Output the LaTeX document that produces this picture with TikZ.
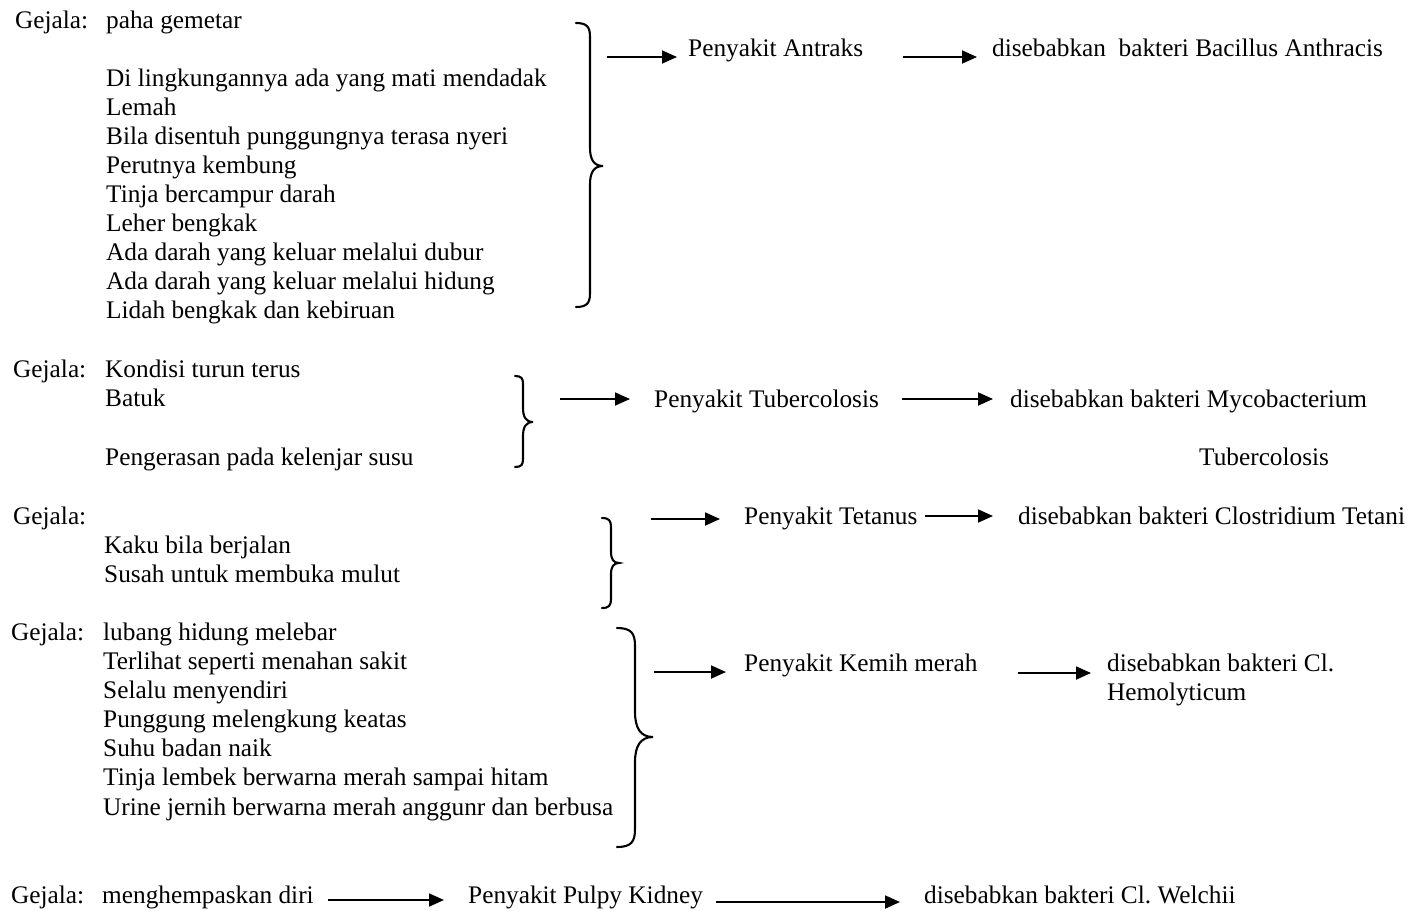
\documentclass[tikz,border=0pt]{standalone}
\usepackage{fontspec}
\setmainfont{Liberation Serif}
\usetikzlibrary{arrows.meta}
% right curly brace: #1 curl end x, #2 stem x, #3 tip x, #4 top y, #5 tip y, #6 bottom y
\newcommand\drawcurly[6]{%
  \draw[curly] (#1,#4) .. controls ({#2-0.2*(#2-#1)},#4) and (#2,{#4+0.3*(#2-#1)}) .. (#2,{#4+(#2-#1)})
    -- (#2,{#5-1.4*(#3-#2)}) .. controls (#2,{#5-0.5*(#3-#2)}) and ({#2+0.3*(#3-#2)},#5) .. (#3,#5)
    .. controls ({#2+0.3*(#3-#2)},#5) and (#2,{#5+0.5*(#3-#2)}) .. (#2,{#5+1.4*(#3-#2)})
    -- (#2,{#6-(#2-#1)}) .. controls (#2,{#6-0.3*(#2-#1)}) and ({#2-0.2*(#2-#1)},#6) .. (#1,#6);}
\begin{document}
\begin{tikzpicture}[x=1pt,y=-1pt,
  txt/.style={anchor=base west,inner sep=0pt,font=\fontsize{25.3}{29}\selectfont},
  arr/.style={line width=1.8pt,-{Triangle[length=15pt,width=13pt]}},
  curly/.style={line width=2.1pt,line cap=round}]
\useasboundingbox (0,0) rectangle (1412,910);

% --- Antraks ---
\node[txt] (g1) at (15,28) {Gejala:};
\node[txt] (s11) at (106,28) {paha gemetar};
\node[txt] (s12) at (106,86) {Di lingkungannya ada yang mati mendadak};
\node[txt] (s13) at (106,115) {Lemah};
\node[txt] (s14) at (106,144) {Bila disentuh punggungnya terasa nyeri};
\node[txt] (s15) at (106,173) {Perutnya kembung};
\node[txt] (s16) at (106,202) {Tinja bercampur darah};
\node[txt] (s17) at (106,231) {Leher bengkak};
\node[txt] (s18) at (106,260) {Ada darah yang keluar melalui dubur};
\node[txt] (s19) at (106,289) {Ada darah yang keluar melalui hidung};
\node[txt] (s110) at (106,318) {Lidah bengkak dan kebiruan};
\drawcurly{576}{590}{603}{23}{166}{307}
\node[txt] (p1) at (688,56) {Penyakit Antraks};
\node[txt] (c1) at (992,56) {disebabkan\ \ bakteri Bacillus Anthracis};
\coordinate (a1) at (607,57);
\coordinate (b1) at (903,57);
\draw[arr,shorten >=11pt] (a1) -- (a1 -| p1.west);
\draw[arr,shorten >=15pt] (b1) -- (b1 -| c1.west);

% --- Tubercolosis ---
\node[txt] (g2) at (13,377) {Gejala:};
\node[txt] (s21) at (105,377) {Kondisi turun terus};
\node[txt] (s22) at (105,406) {Batuk};
\node[txt] (s23) at (105,465) {Pengerasan pada kelenjar susu};
\drawcurly{515}{523}{533}{376}{422}{467}
\node[txt] (p2) at (654,407) {Penyakit Tubercolosis};
\node[txt] (c2) at (1010,407) {disebabkan bakteri Mycobacterium};
\node[txt] (c2b) at (1199,465) {Tubercolosis};
\coordinate (a2) at (560,399);
\coordinate (b2) at (902,399);
\draw[arr,shorten >=24pt] (a2) -- (a2 -| p2.west);
\draw[arr,shorten >=17pt] (b2) -- (b2 -| c2.west);

% --- Tetanus ---
\node[txt] (g3) at (13,524) {Gejala:};
\node[txt] (s31) at (104,553) {Kaku bila berjalan};
\node[txt] (s32) at (104,582) {Susah untuk membuka mulut};
\drawcurly{602}{611}{619}{518}{563}{608}
\node[txt] (p3) at (744,524) {Penyakit Tetanus};
\node[txt] (c3) at (1018,524) {disebabkan bakteri Clostridium Tetani};
\coordinate (a3) at (651,519);
\coordinate (b3) at (925,516);
\draw[arr,shorten >=24pt] (a3) -- (a3 -| p3.west);
\draw[arr,shorten >=25pt] (b3) -- (b3 -| c3.west);

% --- Kemih merah ---
\node[txt] (g4) at (11,640) {Gejala:};
\node[txt] (s41) at (103,640) {lubang hidung melebar};
\node[txt] (s42) at (103,669) {Terlihat seperti menahan sakit};
\node[txt] (s43) at (103,698) {Selalu menyendiri};
\node[txt] (s44) at (103,727) {Punggung melengkung keatas};
\node[txt] (s45) at (103,756) {Suhu badan naik};
\node[txt] (s46) at (103,785) {Tinja lembek berwarna merah sampai hitam};
\node[txt] (s47) at (103,815) {Urine jernih berwarna merah anggunr dan berbusa};
\drawcurly{617}{635}{653}{628}{737}{847}
\node[txt] (p4) at (744,671) {Penyakit Kemih merah};
\node[txt] (c4) at (1107,671) {disebabkan bakteri Cl.};
\node[txt] (c4b) at (1107,700) {Hemolyticum};
\coordinate (a4) at (654,672);
\coordinate (b4) at (1018,673);
\draw[arr,shorten >=18pt] (a4) -- (a4 -| p4.west);
\draw[arr,shorten >=16pt] (b4) -- (b4 -| c4.west);

% --- Pulpy Kidney ---
\node[txt] (g5) at (11,903) {Gejala:};
\node[txt] (s51) at (102,903) {menghempaskan diri};
\node[txt] (p5) at (468,903) {Penyakit Pulpy Kidney};
\node[txt] (c5) at (924,903) {disebabkan bakteri Cl.\ Welchii};
\coordinate (a5) at (328,900);
\coordinate (b5) at (716,902);
\draw[arr,shorten >=24pt] (a5) -- (a5 -| p5.west);
\draw[arr,shorten >=24pt] (b5) -- (b5 -| c5.west);
\end{tikzpicture}
\end{document}
